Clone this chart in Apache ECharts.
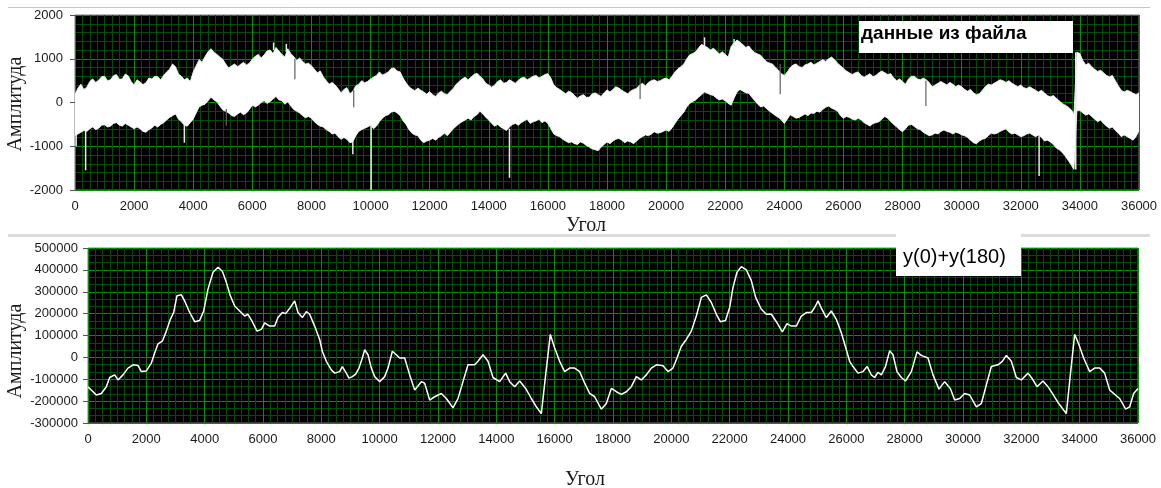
<!DOCTYPE html>
<html><head><meta charset="utf-8">
<script src="https://cdn.jsdelivr.net/npm/echarts/dist/echarts.min.js"></script>
<style>html,body{margin:0;padding:0;background:#fff;}#c{width:1161px;height:488px;}</style>
</head><body><div id="c"></div>
<script>
// ---------- data ----------
const angleTicks = [0,2000,4000,6000,8000,10000,12000,14000,16000,18000,20000,22000,24000,26000,28000,30000,32000,34000,36000];
const topYTicks = [-2000,-1000,0,1000,2000];
const bottomYTicks = [-300000,-200000,-100000,0,100000,200000,300000,400000,500000];

// raw signal ("данные из файла"): upper and lower envelope every 100 units of angle
const topStep = 100;
const topUpper = [
 180,330,420,300,350,480,540,460,510,590,600,500,520,610,640,530,540,650,610,480,
 400,520,470,410,450,560,540,600,590,520,620,700,760,880,820,650,600,520,560,480,
 700,840,980,920,1050,1160,1230,1150,1100,1040,990,880,790,840,880,820,870,920,860,900,
 990,1060,1100,1020,1090,1180,1200,1120,1260,1180,1100,1040,1230,1120,1050,960,1020,940,880,900,
 840,760,680,720,590,500,420,460,400,320,220,300,340,200,260,380,420,500,450,480,
 540,580,620,700,630,660,700,780,790,720,700,560,450,360,310,270,330,280,240,190,
 250,180,140,220,260,200,180,260,320,420,480,540,580,520,580,640,670,600,540,440,
 400,350,400,480,520,440,460,520,480,440,510,560,580,520,560,600,620,560,600,640,
 660,560,400,340,300,250,200,260,230,160,100,150,180,120,120,200,220,180,140,220,
 290,240,300,360,330,280,240,200,260,300,320,400,440,380,460,500,520,480,500,540,
 560,520,600,700,770,820,880,1000,1090,1120,1160,1250,1330,1290,1260,1200,1240,1180,1110,1160,
 1100,1040,1280,1360,1430,1380,1320,1260,1290,1200,1140,1110,1080,1000,930,900,880,800,740,660,
 620,700,800,860,880,820,800,860,880,920,860,900,940,980,940,1000,1040,980,900,840,
 780,720,680,640,680,700,620,580,620,660,590,620,680,720,680,640,660,560,500,540,
 480,420,540,600,600,540,520,560,520,460,360,400,440,480,440,400,460,420,360,400,
 360,300,260,300,220,180,200,280,360,420,400,440,480,520,500,460,500,440,400,360,
 400,340,320,360,320,280,240,280,220,160,130,160,100,40,-20,-60,-100,-160,-260,1150,
 1120,960,860,900,820,760,710,740,680,620,590,620,500,380,280,240,280,250,210,180,
 220];
const topLower = [
 -760,-720,-680,-640,-660,-600,-560,-620,-590,-520,-510,-560,-540,-480,-460,-520,-540,-480,-520,-560,
 -600,-560,-600,-660,-680,-620,-580,-520,-560,-500,-460,-400,-340,-300,-260,-380,-440,-520,-540,-460,
 -380,-240,-100,-60,-40,40,120,60,20,-80,-170,-200,-240,-300,-320,-260,-220,-280,-240,-160,
 -60,-100,-60,0,40,-20,20,80,140,60,40,-40,20,-80,-160,-200,-240,-300,-350,-320,
 -360,-440,-500,-540,-560,-620,-660,-720,-700,-780,-840,-800,-840,-920,-900,-760,-660,-620,-590,-560,
 -520,-600,-540,-440,-360,-300,-280,-220,-200,-240,-300,-420,-500,-620,-700,-740,-760,-860,-920,-880,
 -860,-820,-860,-800,-760,-700,-760,-680,-600,-540,-480,-440,-400,-360,-400,-320,-280,-200,-260,-340,
 -400,-480,-540,-500,-560,-600,-640,-560,-500,-480,-520,-460,-420,-380,-480,-440,-420,-380,-460,-420,
 -480,-600,-720,-760,-780,-840,-880,-920,-900,-940,-960,-900,-930,-980,-1020,-1060,-1080,-1100,-1020,-960,
 -900,-940,-880,-840,-820,-860,-920,-880,-900,-940,-880,-820,-780,-740,-760,-720,-670,-700,-690,-660,
 -630,-660,-580,-480,-380,-300,-220,-100,-20,20,60,120,180,240,210,180,160,100,60,80,
 40,-20,-60,100,240,300,260,220,210,120,40,-40,-100,-80,-140,-200,-250,-300,-340,-400,
 -480,-380,-280,-320,-360,-340,-300,-260,-300,-240,-250,-200,-220,-160,-110,-80,-130,-160,-200,-300,
 -360,-320,-340,-380,-400,-360,-400,-460,-500,-540,-480,-460,-440,-380,-320,-360,-440,-500,-560,-620,
 -670,-600,-520,-500,-550,-600,-620,-680,-720,-760,-740,-700,-720,-660,-630,-660,-680,-720,-680,-700,
 -740,-760,-800,-860,-920,-940,-880,-840,-820,-760,-700,-720,-700,-660,-630,-600,-680,-720,-700,-740,
 -780,-760,-720,-700,-740,-780,-740,-800,-880,-860,-900,-960,-1040,-1080,-1140,-1220,-1320,-1420,-1530,-180,
 -180,-240,-290,-260,-320,-380,-440,-400,-480,-540,-590,-560,-640,-700,-780,-740,-780,-820,-860,-780,
 -640];
const topAngles = topUpper.map((_, i) => i * topStep);
// single sharp spikes of the raw signal: [angle, from, to]
const topSpikesLight = [
 [40,-700,-1000],[360,-650,-1550],[3700,-500,-920],[9400,-860,-1180],[10020,-530,-2000],
 [14700,-600,-1720],[32620,-740,-1680],[6720,1200,1370],[7150,1150,1340],
 [21300,1280,1490],[22300,1300,1450],[33860,-1530,1150]];
// narrow dark gaps inside the white band: [angle, from, to]
const topSpikesDark = [
 [5120,-150,-530],[7440,1000,530],[9430,300,-110],[19120,570,80],[23860,880,190],[28790,500,-80]];

// y(0)+y(180)
const sumAngles = [0,286,457,629,743,914,1029,1200,1371,1543,1714,1829,2000,2171,2286,2400,2549,2686,2823,2937,
 3051,3200,3314,3463,3657,3829,3966,4114,4286,4457,4606,4743,4880,5029,5200,5371,5486,5634,5794,5943,
 6057,6229,6400,6514,6663,6777,6937,7086,7200,7349,7486,7600,7771,7943,8034,8171,8343,8457,8629,8720,
 8857,8949,9063,9177,9291,9406,9486,9600,9714,9829,10000,10171,10286,10434,10571,10686,10857,11029,11200,11429,
 11543,11714,11886,12114,12286,12514,12686,12857,13029,13257,13371,13543,13714,13886,14114,14320,14457,14629,14800,15006,
 15200,15371,15543,15691,15851,16000,16171,16343,16514,16686,16857,17029,17200,17371,17600,17771,17943,18114,18286,18457,
 18629,18800,18971,19143,19314,19486,19714,19886,20057,20194,20343,20514,20686,20857,21029,21200,21371,21543,21680,21857,
 22000,22114,22251,22400,22571,22743,22891,23086,23257,23429,23600,23806,23966,24114,24286,24457,24629,24800,24914,25029,
 25143,25314,25486,25657,25829,26000,26114,26229,26400,26571,26714,26857,26971,27086,27200,27343,27486,27600,27737,27886,
 28029,28229,28423,28571,28800,28971,29177,29371,29566,29714,29886,30057,30229,30457,30629,30800,30971,31200,31349,31486,
 31657,31829,32000,32229,32377,32537,32743,32914,33086,33257,33429,33543,33680,33829,33977,34137,34343,34514,34686,34857,
 35029,35200,35371,35577,35714,35851,36000];
const sumValues = [-135000,-172000,-165000,-134000,-92000,-80000,-103000,-80000,-49000,-34000,-37000,-65000,-62000,-26000,20000,62000,74000,120000,174000,205000,
 282000,286000,258000,212000,163000,169000,212000,312000,389000,412000,394000,343000,282000,235000,212000,189000,197000,163000,120000,128000,
 158000,143000,143000,182000,205000,200000,228000,258000,205000,182000,209000,197000,143000,82000,28000,-18000,-57000,-72000,-65000,-42000,
 -72000,-95000,-88000,-77000,-49000,-3000,35000,12000,-49000,-88000,-111000,-88000,-49000,28000,12000,-3000,-3000,-80000,-149000,-111000,
 -118000,-195000,-180000,-165000,-188000,-231000,-188000,-111000,-34000,-34000,-18000,12000,-18000,-92000,-111000,-72000,-111000,-134000,-108000,-142000,
 -188000,-226000,-257000,-80000,105000,43000,-18000,-65000,-49000,-49000,-65000,-118000,-165000,-180000,-237000,-211000,-142000,-157000,-169000,-157000,
 -134000,-88000,-103000,-80000,-49000,-34000,-38000,-65000,-49000,-3000,51000,82000,120000,189000,274000,286000,251000,197000,163000,169000,
 228000,320000,389000,415000,400000,351000,274000,220000,197000,197000,163000,117000,154000,143000,143000,189000,205000,205000,228000,258000,
 225000,182000,212000,174000,112000,35000,-18000,-42000,-72000,-65000,-42000,-80000,-92000,-68000,-80000,-42000,31000,12000,-65000,-92000,
 -108000,-65000,25000,9000,-3000,-80000,-145000,-111000,-142000,-195000,-188000,-165000,-172000,-226000,-211000,-126000,-42000,-34000,-18000,9000,
 -18000,-92000,-103000,-72000,-98000,-134000,-108000,-134000,-169000,-206000,-237000,-257000,-80000,105000,58000,-3000,-65000,-49000,-49000,-72000,
 -149000,-169000,-188000,-237000,-226000,-165000,-142000];

// ---------- chart ----------
const majorGrid = '#009400', minorGrid = '#004e00';
const tickFont = {color:'#1a1a1a', fontSize:13, fontFamily:'"Liberation Sans", Arial, sans-serif'};
function xAxisCfg(g){
  return {type:'value', gridIndex:g, min:angleTicks[0], max:angleTicks[angleTicks.length-1], interval:angleTicks[1]-angleTicks[0],
    axisLine:{show:false}, axisTick:{show:true, length:5, lineStyle:{color:'#555'}},
    axisLabel:Object.assign({margin:10, formatter:v=>String(v)}, tickFont),
    splitLine:{show:true, lineStyle:{color:majorGrid, width:1}},
    minorTick:{show:false, splitNumber:8},
    minorSplitLine:{show:true, lineStyle:{color:minorGrid, width:1}}, z:1};
}
function yAxisCfg(g, ticks, minorSplit, margin){
  return {type:'value', gridIndex:g, min:ticks[0], max:ticks[ticks.length-1], interval:ticks[1]-ticks[0],
    axisLine:{show:false}, axisTick:{show:true, length:5, lineStyle:{color:'#555'}},
    axisLabel:Object.assign({margin:margin, formatter:v=>String(v)}, tickFont),
    splitLine:{show:true, lineStyle:{color:majorGrid, width:1}},
    minorTick:{show:false, splitNumber:minorSplit},
    minorSplitLine:{show:true, lineStyle:{color:minorGrid, width:1}}, z:1};
}
function spikeSeries(list, color, width){
  return {type:'custom', xAxisIndex:0, yAxisIndex:0, clip:true, silent:true, z:4,
    data:list,
    renderItem:(params, api)=>{
      const a = api.coord([api.value(0), api.value(1)]);
      const b = api.coord([api.value(0), api.value(2)]);
      return {type:'line', shape:{x1:a[0], y1:a[1], x2:b[0], y2:b[1]}, style:{stroke:color, lineWidth:width}};
    }};
}
const serifName = {fill:'#1a1a1a', font:'20px "Liberation Serif", "Times New Roman", serif', align:'center', verticalAlign:'middle'};

const option = {
  animation:false,
  backgroundColor:'#ffffff',
  grid:[
    {left:75, top:15, width:1064, height:175, show:true, backgroundColor:'#000', borderColor:'#7a7a7a', borderWidth:1, outerBoundsMode:'none', containLabel:false},
    {left:88, top:248, width:1050, height:175, show:true, backgroundColor:'#000', borderColor:'#7a7a7a', borderWidth:1, outerBoundsMode:'none', containLabel:false}
  ],
  xAxis:[xAxisCfg(0), xAxisCfg(1)],
  yAxis:[yAxisCfg(0, topYTicks, 5, 12), yAxisCfg(1, bottomYTicks, 3, 10)],
  series:[
    {type:'custom', name:'данные из файла', xAxisIndex:0, yAxisIndex:0, clip:true, silent:true, z:3,
      data:[[topAngles[0], topUpper[0]]],
      renderItem:(params, api)=>{
        const pts = [];
        for (let i=0;i<topAngles.length;i++) pts.push(api.coord([topAngles[i], topUpper[i]]));
        for (let i=topAngles.length-1;i>=0;i--) pts.push(api.coord([topAngles[i], topLower[i]]));
        return {type:'polygon', shape:{points:pts}, style:{fill:'#ffffff', stroke:'#ffffff', lineWidth:0.8}};
      }},
    spikeSeries(topSpikesLight, '#e8e8e8', 1.5),
    spikeSeries(topSpikesDark, '#606060', 1.2),
    {type:'line', name:'y(0)+y(180)', xAxisIndex:1, yAxisIndex:1, showSymbol:false, symbol:'none', silent:true, z:3,
      data:sumAngles.map((a,i)=>[a, sumValues[i]]),
      lineStyle:{color:'#ffffff', width:1.5}}
  ],
  graphic:[
    {type:'line', shape:{x1:8, y1:7.5, x2:1150, y2:7.5}, style:{stroke:'#c4c4c4', lineWidth:1}, silent:true, z:0},
    {type:'rect', shape:{x:8, y:234, width:1142, height:3}, style:{fill:'#dcdcdc'}, silent:true, z:0},
    {type:'rect', shape:{x:859, y:21, width:214, height:32}, style:{fill:'#ffffff'}, silent:true, z:10},
    {type:'text', x:861, y:34, style:{text:'данные из файла', fill:'#000', font:'bold 19px "Liberation Sans", Arial, sans-serif', verticalAlign:'middle'}, silent:true, z:11},
    {type:'rect', shape:{x:896, y:234, width:125, height:42}, style:{fill:'#ffffff'}, silent:true, z:10},
    {type:'text', x:903, y:257, style:{text:'y(0)+y(180)', fill:'#000', font:'20px "Liberation Sans", Arial, sans-serif', verticalAlign:'middle'}, silent:true, z:11},
    {type:'text', x:586, y:226, style:Object.assign({text:'Угол'}, serifName), silent:true},
    {type:'text', x:585, y:480, style:Object.assign({text:'Угол'}, serifName), silent:true},
    {type:'text', x:16, y:104, rotation:Math.PI/2, style:Object.assign({text:'Амплитуда'}, serifName), silent:true},
    {type:'text', x:16, y:351, rotation:Math.PI/2, style:Object.assign({text:'Амплитуда'}, serifName), silent:true}
  ]
};
const chart = echarts.init(document.getElementById('c'), null, {renderer:'canvas'});
chart.setOption(option);
</script>
</body></html>
